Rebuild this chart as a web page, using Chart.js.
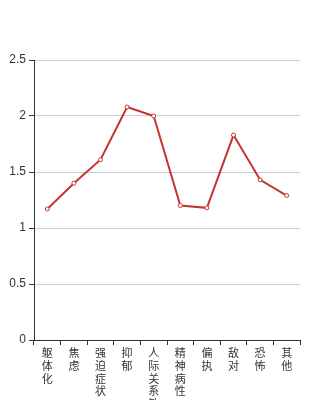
<!DOCTYPE html>
<html>
<head>
<meta charset="utf-8">
<script src="https://cdn.jsdelivr.net/npm/chart.js@4"></script>
<style>
  html, body { margin: 0; padding: 0; background: #fff; }
  #wrap { width: 334px; height: 400px; }
</style>
</head>
<body>
<div id="wrap"><canvas id="line_chart"></canvas></div>
<script>
// categories and values
const categories = ['躯体化', '焦虑', '强迫症状', '抑郁', '人际关系敏感', '精神病性', '偏执', '敌对', '恐怖', '其他'];
const scores = [1.17, 1.40, 1.61, 2.08, 2.00, 1.20, 1.18, 1.83, 1.43, 1.29];
const yTicks = [0, 0.5, 1, 1.5, 2, 2.5];

// one character per line, like the vertical labels in the picture
const labels = categories.map(c => c.split(''));

const ctx = document.getElementById('line_chart');
Chart.defaults.font.family = "'Liberation Sans', 'Noto Sans CJK SC', sans-serif";
Chart.defaults.font.size = 11;
Chart.defaults.color = '#333';

new Chart(ctx, {
    type: 'line',
    data: {
        labels: labels,
        datasets: [{
            data: scores,
            borderColor: '#c23531',
            borderWidth: 2,
            backgroundColor: '#fff',
            pointBackgroundColor: '#fff',
            pointBorderColor: '#c23531',
            pointBorderWidth: 1,
            pointRadius: 2,
            fill: false,
            tension: 0
        }]
    },
    options: {
        responsive: true,
        maintainAspectRatio: false,
        animation: false,
        layout: { padding: { top: 60, right: 34, left: 0, bottom: 0 } },
        plugins: { legend: { display: false }, tooltip: { enabled: false } },
        scales: {
            x: {
                offset: true,
                grid: { display: true, drawOnChartArea: false, offset: true, tickLength: 5, tickColor: '#333' },
                border: { color: '#333' },
                ticks: { maxRotation: 0, minRotation: 0, autoSkip: false, padding: 3, font: { lineHeight: 1.15 } },
                afterFit: (scale) => { scale.height = 60; }
            },
            y: {
                min: 0,
                max: 2.5,
                afterBuildTicks: (scale) => { scale.ticks = yTicks.map(v => ({ value: v })); },
                grid: { color: '#ccc', tickLength: 5, tickColor: '#333' },
                border: { color: '#333' },
                ticks: { padding: 3, font: { size: 12 }, callback: (v) => String(v) },
                afterFit: (scale) => { scale.width = 34; }
            }
        }
    }
});
</script>
</body>
</html>
